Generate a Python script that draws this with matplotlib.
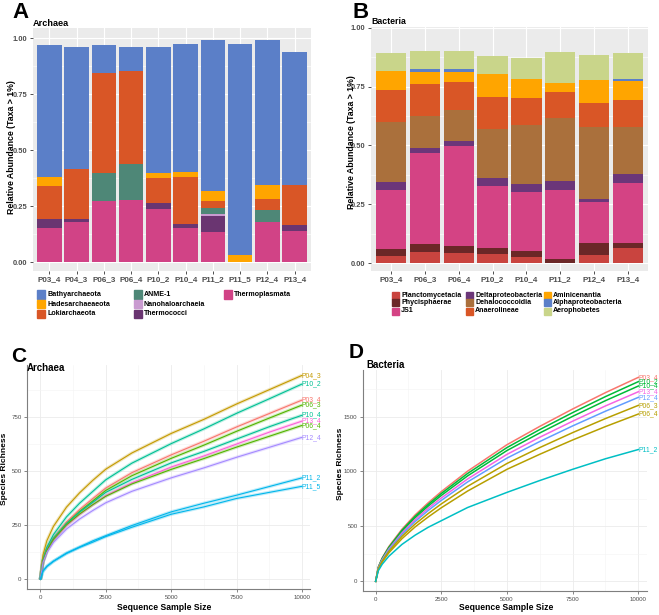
import numpy as np
import matplotlib.pyplot as plt
from matplotlib.patches import Rectangle
from matplotlib.ticker import MultipleLocator

plt.rcParams["font.family"] = ["Liberation Sans", "DejaVu Sans"]

W, H = 659, 615

# ---------------- A: archaea composition ----------------
arch_samples = ["P03_4", "P04_3", "P06_3", "P06_4", "P10_2", "P10_4", "P11_2", "P11_5", "P12_4", "P13_4"]
arch_taxa = ["Bathyarchaeota", "Hadesarchaeaeota", "Lokiarchaeota", "ANME-1",
             "Nanohaloarchaeia", "Thermococci", "Thermoplasmata"]
arch_colors = ["#5B7FC8", "#FFA500", "#D95626", "#4E8777", "#C99BD0", "#6A3571", "#D14386"]
bathyarchaeota = [0.586, 0.542, 0.124, 0.110, 0.562, 0.572, 0.676, 0.940, 0.650, 0.598]
hadesarchaeaeota = [0.041, 0.0, 0.0, 0.0, 0.021, 0.020, 0.042, 0.033, 0.062, 0.0]
lokiarchaeota = [0.149, 0.222, 0.444, 0.415, 0.111, 0.212, 0.030, 0.0, 0.047, 0.175]
anme1 = [0.0, 0.0, 0.127, 0.160, 0.0, 0.0, 0.028, 0.0, 0.053, 0.0]
nanohaloarchaeia = [0.0, 0.0, 0.0, 0.0, 0.0, 0.0, 0.009, 0.0, 0.0, 0.0]
thermococci = [0.037, 0.015, 0.0, 0.0, 0.028, 0.018, 0.073, 0.0, 0.0, 0.030]
thermoplasmata = [0.154, 0.179, 0.272, 0.276, 0.236, 0.151, 0.133, 0.0, 0.181, 0.137]
arch_layers = [bathyarchaeota, hadesarchaeaeota, lokiarchaeota, anme1,
               nanohaloarchaeia, thermococci, thermoplasmata]

# ---------------- B: bacteria composition ----------------
bact_samples = ["P03_4", "P06_3", "P06_4", "P10_2", "P10_4", "P11_2", "P12_4", "P13_4"]
bact_taxa = ["Planctomycetacia", "Phycisphaerae", "JS1", "Deltaproteobacteria", "Dehalococcoidia",
             "Anaerolineae", "Aminicenantia", "Alphaproteobacteria", "Aerophobetes"]
bact_colors = ["#C9443F", "#6B2727", "#D44384", "#6B3679", "#AA703C",
               "#D95626", "#FFA500", "#5B7FC8", "#C9D58A"]
planctomycetacia = [0.031, 0.048, 0.044, 0.038, 0.028, 0.0, 0.035, 0.065]
phycisphaerae = [0.031, 0.033, 0.028, 0.027, 0.024, 0.018, 0.050, 0.023]
js1 = [0.251, 0.389, 0.426, 0.262, 0.251, 0.292, 0.177, 0.251]
deltaproteobacteria = [0.032, 0.018, 0.021, 0.034, 0.035, 0.038, 0.012, 0.039]
dehalococcoidia = [0.256, 0.136, 0.133, 0.209, 0.248, 0.269, 0.306, 0.201]
anaerolineae = [0.134, 0.137, 0.116, 0.136, 0.116, 0.111, 0.099, 0.113]
aminicenantia = [0.081, 0.052, 0.045, 0.096, 0.082, 0.037, 0.098, 0.080]
alphaproteobacteria = [0.0, 0.013, 0.013, 0.0, 0.0, 0.0, 0.0, 0.012]
aerophobetes = [0.075, 0.074, 0.074, 0.078, 0.086, 0.132, 0.107, 0.110]
bact_layers = [planctomycetacia, phycisphaerae, js1, deltaproteobacteria, dehalococcoidia,
               anaerolineae, aminicenantia, alphaproteobacteria, aerophobetes]

# ---------------- C / D: rarefaction curves ----------------
seq_size = [0, 100, 250, 500, 1000, 1500, 2000, 2500, 3500, 5000, 6250, 7500, 8750, 10000]

arch_curve_names = ["P04_3", "P10_2", "P03_4", "P06_3", "P10_4", "P13_4", "P06_4", "P12_4", "P11_2", "P11_5"]
arch_curve_colors = ["#C49A00", "#00C094", "#F8766D", "#53B400", "#00C094", "#FB61D7",
                     "#53B400", "#A58AFF", "#00B6EB", "#00B6EB"]
rich_p04_3 = [0, 113, 179, 245, 334, 400, 457, 509, 584, 674, 739, 810, 876, 942]
rich_p10_2 = [0, 90, 149, 207, 289, 352, 406, 460, 537, 627, 695, 767, 834, 902]
rich_p03_4 = [0, 83, 137, 190, 265, 323, 373, 422, 493, 575, 638, 704, 766, 828]
rich_p06_3 = [0, 81, 133, 185, 258, 314, 362, 411, 479, 559, 620, 684, 745, 805]
rich_p10_4 = [0, 83, 136, 190, 258, 311, 356, 402, 462, 538, 591, 648, 705, 758]
rich_p13_4 = [0, 80, 132, 183, 249, 300, 344, 387, 446, 519, 570, 625, 680, 731]
rich_p06_4 = [0, 85, 135, 185, 252, 302, 345, 384, 441, 508, 558, 611, 661, 711]
rich_p12_4 = [0, 79, 125, 171, 233, 279, 318, 354, 407, 469, 515, 564, 610, 656]
rich_p11_2 = [0, 38, 61, 84, 122, 150, 178, 202, 249, 312, 352, 389, 429, 469]
rich_p11_5 = [0, 39, 60, 84, 120, 148, 172, 198, 241, 301, 335, 374, 402, 430]
arch_curves = [rich_p04_3, rich_p10_2, rich_p03_4, rich_p06_3, rich_p10_4,
               rich_p13_4, rich_p06_4, rich_p12_4, rich_p11_2, rich_p11_5]

bact_curve_names = ["P03_4", "P10_2", "P10_4", "P13_4", "P12_4", "P06_3", "P06_4", "P11_2"]
bact_curve_colors = ["#F8766D", "#00BA38", "#00BA38", "#F564E3", "#619CFF", "#B79F00", "#B79F00", "#00BFC4"]
brich_p03_4 = [0, 130, 214, 316, 474, 604, 715, 817, 1003, 1244, 1411, 1569, 1718, 1857]
brich_p10_2 = [0, 127, 209, 309, 464, 591, 700, 800, 982, 1218, 1382, 1536, 1682, 1818]
brich_p10_4 = [0, 124, 204, 302, 453, 578, 685, 782, 960, 1191, 1351, 1502, 1645, 1778]
brich_p13_4 = [0, 121, 198, 293, 440, 561, 665, 759, 932, 1156, 1312, 1458, 1597, 1726]
brich_p12_4 = [0, 117, 193, 285, 427, 544, 645, 737, 905, 1122, 1273, 1415, 1549, 1675]
brich_p06_3 = [0, 112, 184, 272, 409, 521, 617, 705, 865, 1073, 1218, 1354, 1482, 1602]
brich_p06_4 = [0, 107, 175, 259, 388, 495, 586, 670, 822, 1020, 1157, 1287, 1409, 1523]
brich_p11_2 = [0, 96, 156, 228, 336, 420, 492, 552, 672, 810, 918, 1020, 1116, 1200]
bact_curves = [brich_p03_4, brich_p10_2, brich_p10_4, brich_p13_4,
               brich_p12_4, brich_p06_3, brich_p06_4, brich_p11_2]


def px_axes(fig, x0, y0, x1, y1):
    # pixel box (top-left origin) -> figure axes
    return fig.add_axes([x0 / W, 1 - y1 / H, (x1 - x0) / W, (y1 - y0) / H])


def ftext(fig, x, y, s, **kw):
    fig.text(x / W, 1 - y / H, s, **kw)


def stacked_bars(ax, samples, layers, colors, ylim, top_first):
    x = np.arange(len(samples))
    bottom = np.zeros(len(samples))
    order = list(zip(layers, colors))
    if top_first:
        order = order[::-1]
    for vals, col in order:
        ax.bar(x, vals, 0.9, bottom=bottom, color=col, zorder=2, linewidth=0)
        bottom += np.array(vals)
    ax.set_facecolor("#EBEBEB")
    ax.set_xlim(-0.6, len(samples) - 0.4)
    ax.set_ylim(*ylim)
    ax.set_yticks([0, 0.25, 0.5, 0.75, 1.0])
    ax.set_yticklabels(["0.00", "0.25", "0.50", "0.75", "1.00"])
    ax.yaxis.set_minor_locator(MultipleLocator(0.125))
    ax.set_xticks(x)
    ax.set_xticklabels(samples)
    ax.grid(True, which="major", color="white", lw=0.8, zorder=0)
    ax.grid(True, which="minor", axis="y", color="white", lw=0.4, zorder=0)
    ax.set_axisbelow(True)
    for s in ax.spines.values():
        s.set_visible(False)
    ax.tick_params(which="major", length=2, width=0.6, color="#333333", pad=2)
    ax.tick_params(which="minor", length=0)
    ax.tick_params(axis="x", labelsize=5.8, labelcolor="#4D4D4D")
    ax.tick_params(axis="y", labelsize=5.4, labelcolor="#4D4D4D")
    for lab in ax.get_xticklabels() + ax.get_yticklabels():
        lab.set_fontweight("bold")


def manual_legend(fig, taxa, colors, col_x, row_y, key, gap):
    for i, (name, col) in enumerate(zip(taxa, colors)):
        c, r = divmod(i, 3)
        x, y = col_x[c], row_y[r]
        fig.patches.append(Rectangle((x / W, 1 - (y + key / 2) / H), key / W, key / H,
                                     transform=fig.transFigure, color=col, figure=fig))
        ftext(fig, x + key + gap, y, name, fontsize=5.1, fontweight="bold", va="center", ha="left")


def rarefaction(ax, xs, curves, names, colors, ylim, xlim, ymajor, band):
    for ys, name, col in zip(curves, names, colors):
        if band:
            ax.plot(xs, ys, color=col, lw=2.4, alpha=0.25, solid_capstyle="butt", zorder=2)
            ax.plot(xs, ys, color=col, lw=0.8, zorder=3)
        else:
            ax.plot(xs, ys, color=col, lw=1.1, zorder=3)
        ax.text(xs[-1], ys[-1], name, color=col, fontsize=4.9, ha="left", va="center",
                clip_on=False, zorder=4)
    ax.set_xlim(*xlim)
    ax.set_ylim(*ylim)
    ax.set_xticks([0, 2500, 5000, 7500, 10000])
    ax.xaxis.set_minor_locator(MultipleLocator(1250))
    ax.yaxis.set_major_locator(MultipleLocator(ymajor))
    ax.yaxis.set_minor_locator(MultipleLocator(ymajor / 2))
    ax.grid(True, which="major", color="#EBEBEB", lw=0.6, zorder=0)
    ax.grid(True, which="minor", color="#F4F4F4", lw=0.4, zorder=0)
    ax.set_axisbelow(True)
    for s in ["top", "right"]:
        ax.spines[s].set_visible(False)
    for s in ["left", "bottom"]:
        ax.spines[s].set_color("#7F7F7F")
        ax.spines[s].set_linewidth(0.8)
    ax.tick_params(which="major", length=2, width=0.5, color="#555555", pad=2,
                   labelsize=4.4, labelcolor="#4D4D4D")
    ax.tick_params(which="minor", length=0)


fig = plt.figure(figsize=(W / 100, H / 100), dpi=100)

# A
axA = px_axes(fig, 33, 28, 311, 271)
stacked_bars(axA, arch_samples, arch_layers, arch_colors, (-0.04, 1.045), True)
ftext(fig, 12, 13, "A", fontsize=16, fontweight="bold", va="center", ha="left")
ftext(fig, 33, 24, "Archaea", fontsize=6.6, fontweight="bold", va="center", ha="left")
ftext(fig, 12, 147, "Relative Abundance (Taxa > 1%)", fontsize=6.3, fontweight="bold",
      rotation=90, va="center", ha="center")
manual_legend(fig, arch_taxa, arch_colors, [37, 134, 224], [294.5, 304, 313.5], 8, 2)

# B
axB = px_axes(fig, 371, 27, 648, 271)
stacked_bars(axB, bact_samples, bact_layers, bact_colors, (-0.033, 1.003), False)
ftext(fig, 352, 12, "B", fontsize=16, fontweight="bold", va="center", ha="left")
ftext(fig, 371, 22, "Bacteria", fontsize=6.3, fontweight="bold", va="center", ha="left")
ftext(fig, 351, 142, "Relative Abundance (Taxa > 1%)", fontsize=6.3, fontweight="bold",
      rotation=90, va="center", ha="center")
manual_legend(fig, bact_taxa, bact_colors, [392, 466, 544], [295, 303, 311], 7, 2)

# C
axC = px_axes(fig, 27, 365, 310, 589)
rarefaction(axC, seq_size, arch_curves, arch_curve_names, arch_curve_colors,
            (-44, 990), (-510, 10306), 250, True)
ftext(fig, 11, 356, "C", fontsize=15, fontweight="bold", va="center", ha="left")
ftext(fig, 27, 368, "Archaea", fontsize=7, fontweight="bold", va="center", ha="left")
ftext(fig, 5, 469, "Species Richness", fontsize=6, fontweight="bold",
      rotation=90, va="center", ha="center")
ftext(fig, 164, 608, "Sequence Sample Size", fontsize=6.2, fontweight="bold", va="center", ha="center")

# D
axD = px_axes(fig, 363, 370, 647, 591)
rarefaction(axD, seq_size, bact_curves, bact_curve_names, bact_curve_colors,
            (-88, 1924), (-482, 10330), 500, False)
ftext(fig, 349, 352, "D", fontsize=15, fontweight="bold", va="center", ha="left")
ftext(fig, 366, 365, "Bacteria", fontsize=7, fontweight="bold", va="center", ha="left")
ftext(fig, 340, 464, "Species Richness", fontsize=6, fontweight="bold",
      rotation=90, va="center", ha="center")
ftext(fig, 506, 608, "Sequence Sample Size", fontsize=6.2, fontweight="bold", va="center", ha="center")

fig.savefig("out.png", dpi=100, facecolor="white")
